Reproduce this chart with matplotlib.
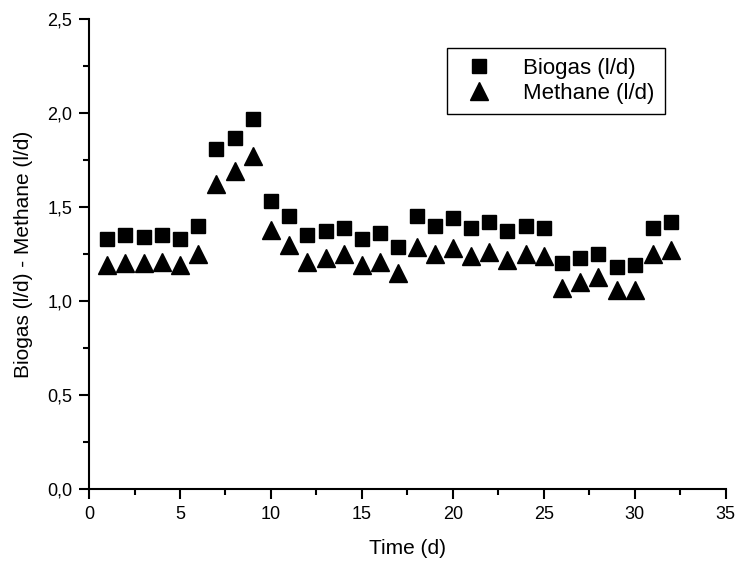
import numpy as np
import matplotlib.pyplot as plt
from matplotlib.ticker import MultipleLocator, FuncFormatter

# Datos
dias = list(range(1, 33))

biogas = [1.33, 1.35, 1.34, 1.35, 1.33, 1.40, 1.81, 1.87, 1.97, 1.53,
          1.45, 1.35, 1.37, 1.39, 1.33, 1.36, 1.29, 1.45, 1.40, 1.44,
          1.39, 1.42, 1.37, 1.40, 1.39, 1.20, 1.23, 1.25, 1.18, 1.19,
          1.39, 1.42]

metano = [1.19, 1.20, 1.20, 1.21, 1.19, 1.25, 1.62, 1.69, 1.77, 1.38,
          1.30, 1.21, 1.23, 1.25, 1.19, 1.21, 1.15, 1.29, 1.25, 1.28,
          1.24, 1.26, 1.22, 1.25, 1.24, 1.07, 1.10, 1.13, 1.06, 1.06,
          1.25, 1.27]

plt.rcParams['font.family'] = ['Liberation Sans', 'DejaVu Sans']

fig = plt.figure(figsize=(7.37, 5.62), dpi=100)
ax = fig.add_axes([0.1208, 0.13, 0.864, 0.836])

ax.plot(dias, biogas, linestyle="none", marker="s", markersize=9.5,
        color="black", label="Biogas (l/d)")
ax.plot(dias, metano, linestyle="none", marker="^", markersize=13,
        color="black", label="Methane (l/d)")

# Ejes
ax.set_xlim(0, 35)
ax.set_ylim(0, 2.5)
ax.xaxis.set_major_locator(MultipleLocator(5))
ax.xaxis.set_minor_locator(MultipleLocator(2.5))
ax.yaxis.set_major_locator(MultipleLocator(0.5))
ax.yaxis.set_minor_locator(MultipleLocator(0.25))
ax.yaxis.set_major_formatter(FuncFormatter(lambda v, p: f"{v:.1f}".replace(".", ",")))

ax.spines["top"].set_visible(False)
ax.spines["right"].set_visible(False)
ax.spines["left"].set_linewidth(1.5)
ax.spines["bottom"].set_linewidth(1.5)

ax.tick_params(which="major", direction="out", length=7, width=1.5,
               labelsize=13, pad=5)
ax.tick_params(which="minor", direction="out", length=4, width=1.5)

ax.set_xlabel("Time (d)", fontsize=15, labelpad=12)
ax.set_ylabel("Biogas (l/d) - Methane (l/d)", fontsize=15, labelpad=10)

# Leyenda con marco negro
ax.legend(loc="upper right", bbox_to_anchor=(0.904, 0.938), fontsize=16,
          frameon=True, fancybox=False, edgecolor="black", framealpha=1,
          borderaxespad=0, handlelength=2.0, handletextpad=1.0,
          borderpad=0.45, labelspacing=0.15)

fig.savefig("out.png", dpi=100)
